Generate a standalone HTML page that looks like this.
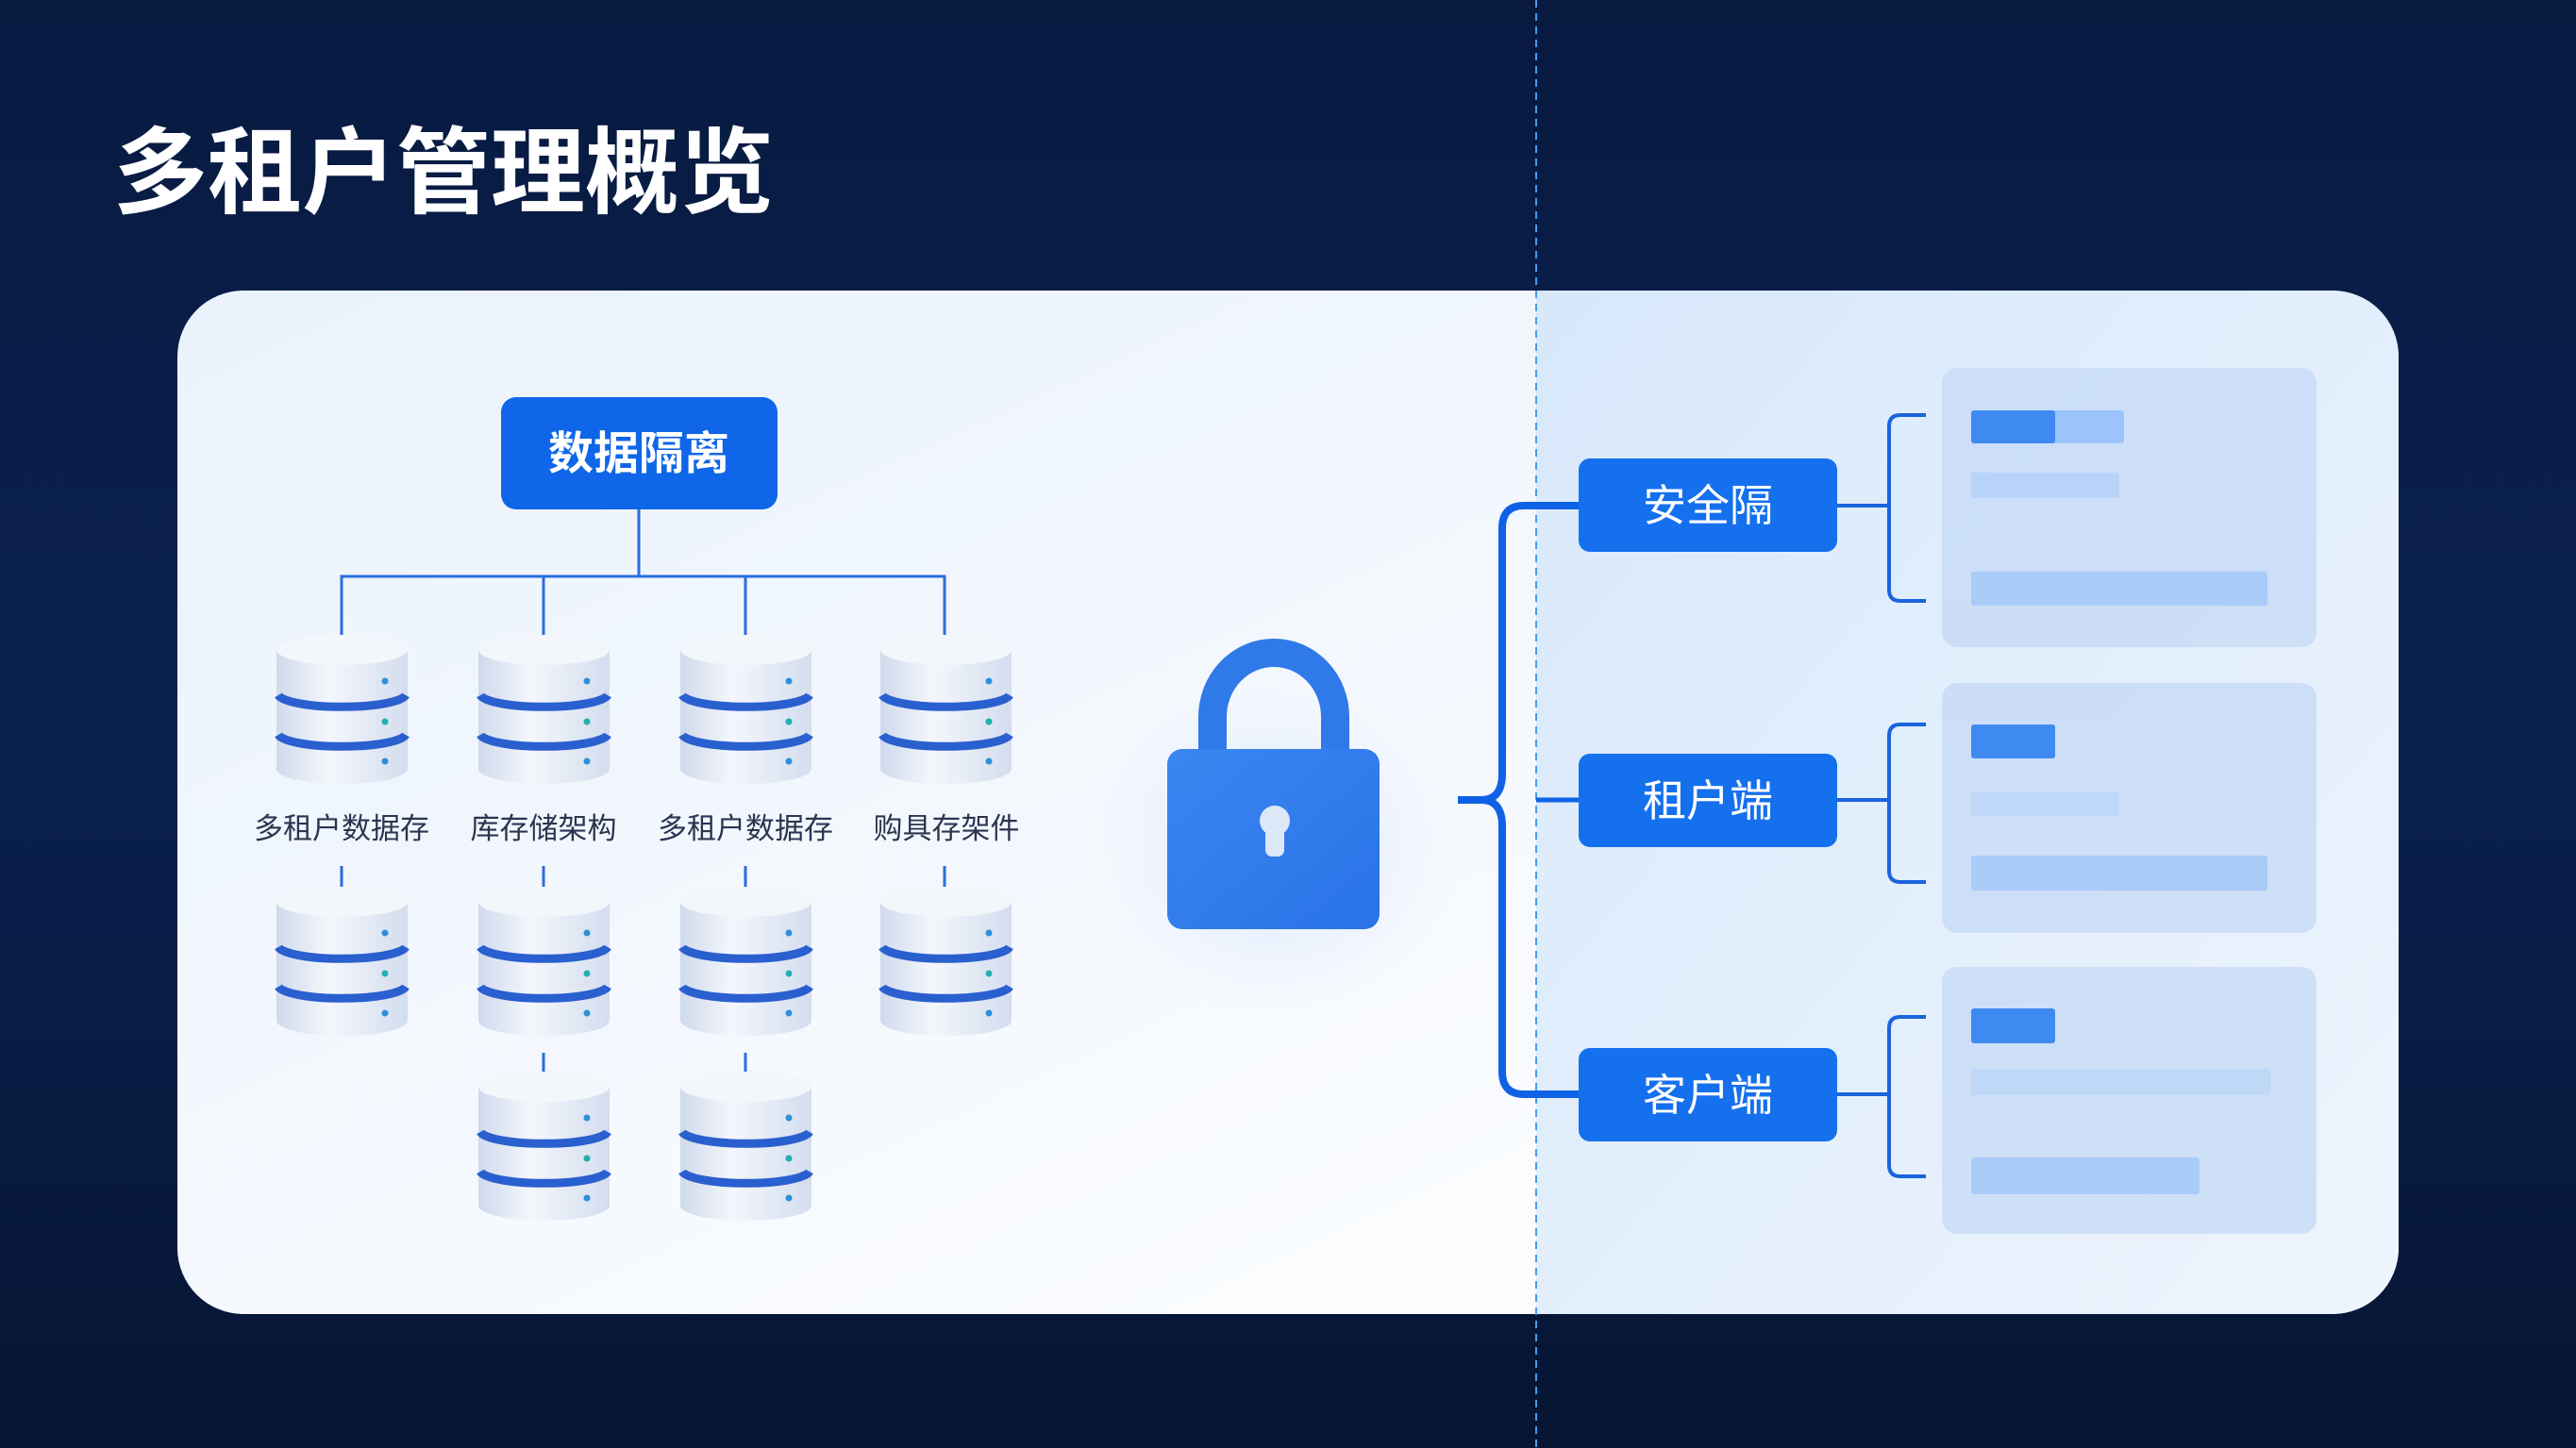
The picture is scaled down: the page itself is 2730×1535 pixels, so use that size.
<!DOCTYPE html>
<html><head><meta charset="utf-8"><style>
html,body{margin:0;padding:0;width:2730px;height:1535px;overflow:hidden;background:#07173a;}
svg{display:block}
text{font-family:"Liberation Sans","Noto Sans CJK SC",sans-serif;}
</style></head><body>
<svg width="2730" height="1535" viewBox="0 0 2730 1535" xmlns="http://www.w3.org/2000/svg">
<defs>
<linearGradient id="bg" x1="0" y1="0" x2="0" y2="1">
<stop offset="0" stop-color="#081a40"/><stop offset="0.5" stop-color="#0a2150"/><stop offset="1" stop-color="#061533"/>
</linearGradient>
<linearGradient id="card" x1="0" y1="0" x2="1" y2="1">
<stop offset="0" stop-color="#eaf2fc"/><stop offset="0.6" stop-color="#f7fafe"/><stop offset="1" stop-color="#ffffff"/>
</linearGradient>
<linearGradient id="right" x1="0" y1="0" x2="1" y2="1">
<stop offset="0" stop-color="#d7e8fb"/><stop offset="1" stop-color="#eef5fd"/>
</linearGradient>
<linearGradient id="cyl" x1="0" y1="0" x2="1" y2="0">
<stop offset="0" stop-color="#cfdaec"/><stop offset="0.4" stop-color="#f4f7fc"/><stop offset="1" stop-color="#d3ddee"/>
</linearGradient>
<linearGradient id="lockg" x1="0" y1="0" x2="1" y2="1">
<stop offset="0" stop-color="#3a86f0"/><stop offset="1" stop-color="#2a72e8"/>
</linearGradient>
<radialGradient id="glow" cx="0.5" cy="0.5" r="0.5">
<stop offset="0" stop-color="#cfe0fa" stop-opacity="0.9"/><stop offset="1" stop-color="#e8f0fc" stop-opacity="0"/>
</radialGradient>
<g id="db">
<path d="M0 14 V140 A69 16 0 0 0 139 140 V14 Z" fill="url(#cyl)"/>
<ellipse cx="69.5" cy="14" rx="69.5" ry="16" fill="#f3f6fb"/>
<path d="M2 62 A68 14 0 0 0 137 62" fill="none" stroke="#2a5fcf" stroke-width="9"/>
<path d="M2 104 A68 14 0 0 0 137 104" fill="none" stroke="#2a5fcf" stroke-width="9"/>
<circle cx="115" cy="47" r="3.5" fill="#2f8fd8"/>
<circle cx="115" cy="90" r="3.5" fill="#20b0b0"/>
<circle cx="115" cy="132" r="3.5" fill="#2f8fd8"/>
</g>
</defs>
<rect width="2730" height="1535" fill="url(#bg)"/>
<text x="120" y="218" font-size="100" font-weight="bold" fill="#ffffff">多租户管理概览</text>

<rect x="188" y="308" width="2354" height="1085" rx="70" fill="url(#card)"/>
<path d="M1628 308 H2472 A70 70 0 0 1 2542 378 V1323 A70 70 0 0 1 2472 1393 H1628 Z" fill="url(#right)"/>
<line x1="1628" y1="0" x2="1628" y2="1535" stroke="#4a9be8" stroke-width="2" stroke-dasharray="8 6"/>

<!-- left tree -->
<rect x="531" y="421" width="293" height="119" rx="16" fill="#0f66e8"/>
<text x="677" y="497" font-size="48" font-weight="bold" fill="#fff" text-anchor="middle">数据隔离</text>
<g stroke="#2a6de0" stroke-width="3" fill="none">
<path d="M677 540 V611"/>
<path d="M362 675 V611 H1001 V675"/>
<path d="M576 611 V675"/><path d="M790 611 V675"/>
<path d="M362 918 V940"/><path d="M576 918 V940"/><path d="M790 918 V940"/><path d="M1001 918 V940"/>
<path d="M576 1116 V1136"/><path d="M790 1116 V1136"/>
</g>
<use href="#db" x="293" y="675"/><use href="#db" x="507" y="675"/><use href="#db" x="721" y="675"/><use href="#db" x="933" y="675"/>
<g font-size="31" fill="#2b3550" text-anchor="middle">
<text x="362" y="889">多租户数据存</text>
<text x="576" y="889">库存储架构</text>
<text x="790" y="889">多租户数据存</text>
<text x="1003" y="889">购具存架件</text>
</g>
<use href="#db" x="293" y="942"/><use href="#db" x="507" y="942"/><use href="#db" x="721" y="942"/><use href="#db" x="933" y="942"/>
<use href="#db" x="507" y="1138"/><use href="#db" x="721" y="1138"/>

<!-- lock -->
<ellipse cx="1350" cy="900" rx="200" ry="180" fill="url(#glow)"/>
<path d="M1285 800 V760 A65 68 0 0 1 1415 760 V800" fill="none" stroke="#2f7ae8" stroke-width="30"/>
<rect x="1237" y="794" width="225" height="191" rx="16" fill="url(#lockg)"/>
<circle cx="1351" cy="870" r="16" fill="#dce8f8"/>
<rect x="1341" y="872" width="20" height="36" rx="7" fill="#dce8f8"/>

<!-- brace -->
<g stroke="#0f62e6" stroke-width="8" fill="none">
<path d="M1673 536 H1615 Q1592 536 1592 560 V820 Q1592 848 1570 848 H1545"/>
<path d="M1570 848 Q1592 848 1592 876 V1136 Q1592 1160 1615 1160 H1673"/>
<path d="M1628 848 H1673" stroke-width="5"/>
</g>
<g fill="#1570ee">
<rect x="1673" y="486" width="274" height="99" rx="12"/>
<rect x="1673" y="799" width="274" height="99" rx="12"/>
<rect x="1673" y="1111" width="274" height="99" rx="12"/>
</g>
<g font-size="46" fill="#fff" text-anchor="middle">
<text x="1810" y="552">安全隔</text>
<text x="1810" y="865">租户端</text>
<text x="1810" y="1177">客户端</text>
</g>
<g stroke="#1a64dc" stroke-width="4" fill="none">
<path d="M1947 536 H2002"/><path d="M2041 440 H2014 Q2002 440 2002 452 V625 Q2002 637 2014 637 H2041"/>
<path d="M1947 848 H2002"/><path d="M2041 768 H2014 Q2002 768 2002 780 V923 Q2002 935 2014 935 H2041"/>
<path d="M1947 1160 H2002"/><path d="M2041 1078 H2014 Q2002 1078 2002 1090 V1235 Q2002 1247 2014 1247 H2041"/>
</g>
<g fill="#c9dcf7" opacity="0.85">
<rect x="2058" y="390" width="397" height="296" rx="16"/>
<rect x="2058" y="724" width="397" height="265" rx="16"/>
<rect x="2058" y="1025" width="397" height="283" rx="16"/>
</g>
<rect x="2089" y="435" width="162" height="35" rx="3" fill="#9cc3fb"/>
<rect x="2089" y="435" width="89" height="35" rx="3" fill="#3f8af0"/>
<rect x="2089" y="501" width="157" height="27" fill="#b8d4f8"/>
<rect x="2089" y="606" width="314" height="36" rx="3" fill="#a9cbf8"/>
<rect x="2089" y="768" width="89" height="36" rx="3" fill="#3f8af0"/>
<rect x="2089" y="839" width="157" height="26" fill="#bfd8f8"/>
<rect x="2089" y="907" width="314" height="37" rx="3" fill="#a9cbf8"/>
<rect x="2089" y="1069" width="89" height="37" rx="3" fill="#3f8af0"/>
<rect x="2089" y="1133" width="317" height="28" fill="#bfd8f8"/>
<rect x="2089" y="1227" width="242" height="39" rx="3" fill="#a9cbf8"/>
</svg>
</body></html>
